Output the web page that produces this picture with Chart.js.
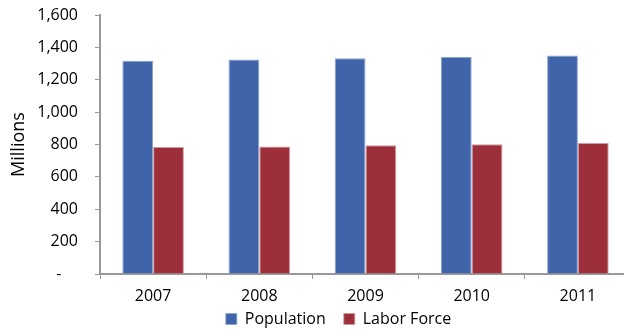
<!DOCTYPE html>
<html>
<head>
<meta charset="utf-8">
<script src="https://cdn.jsdelivr.net/npm/chart.js@4"></script>
<style>
    html, body { margin: 0; padding: 0; background: #fff; overflow: hidden; }
    #wrap { width: 640px; height: 329px; position: relative; }
</style>
</head>
<body>
<div id="wrap"><canvas id="laborChart"></canvas></div>
<script>
const years = ['2007', '2008', '2009', '2010', '2011'];
const population = [1317, 1325, 1333, 1340, 1350];
const laborForce = [784, 787, 795, 801, 810];
const yTicks = [0, 200, 400, 600, 800, 1000, 1200, 1400, 1600];

const axisColor = '#999999';
const textColor = '#000';
const fontFamily = '"Open Sans", sans-serif';

// keep the legend short and place it like the original
const legendPlace = {
    id: 'legendPlace',
    beforeLayout(chart) {
        const lg = chart.legend;
        if (lg && !lg._patched) {
            const orig = lg.fit;
            lg.fit = function() {
                orig.call(this);
                this.height = 23;
            };
            lg._patched = true;
        }
    },
    afterLayout(chart) {
        const lg = chart.legend;
        lg.left += 23;
        lg.right += 23;
        lg.top = 293;
    }
};

const ctx = document.getElementById('laborChart');

new Chart(ctx, {
    type: 'bar',
    data: {
        labels: years,
        datasets: [{
            label: 'Population',
            data: population,
            backgroundColor: '#3f64a9',
            borderColor: '#8aa3cf',
            borderWidth: { top: 1, left: 1, right: 1, bottom: 0 },
            categoryPercentage: 0.58,
            barPercentage: 1.0
        }, {
            label: 'Labor Force',
            data: laborForce,
            backgroundColor: '#9c2f3a',
            borderColor: '#cf9aa0',
            borderWidth: { top: 1, left: 1, right: 1, bottom: 0 },
            categoryPercentage: 0.58,
            barPercentage: 1.0
        }]
    },
    options: {
        responsive: true,
        maintainAspectRatio: false,
        animation: false,
        layout: { padding: { top: 15, right: 9, left: 0, bottom: 0 } },
        plugins: {
            legend: {
                position: 'bottom',
                labels: {
                    boxWidth: 11,
                    boxHeight: 11,
                    padding: 18,
                    color: textColor,
                    font: { family: fontFamily, size: 16 }
                }
            },
            title: { display: false },
            tooltip: { enabled: false }
        },
        scales: {
            x: {
                offset: true,
                afterFit(scale) {
                    scale.height = 32;
                    scale.paddingLeft = 0;
                    scale.paddingRight = 0;
                },
                grid: {
                    display: true,
                    offset: true,
                    drawOnChartArea: false,
                    drawTicks: true,
                    tickLength: 5,
                    color: axisColor
                },
                border: { color: axisColor, width: 2 },
                ticks: {
                    color: textColor,
                    padding: 8,
                    font: { family: fontFamily, size: 16 }
                }
            },
            y: {
                min: 0,
                max: 1600,
                afterBuildTicks(scale) {
                    scale.ticks = yTicks.map(v => ({ value: v }));
                },
                afterFit(scale) {
                    scale.width = 100;
                    scale.paddingTop = 0;
                    scale.paddingBottom = 0;
                },
                grid: {
                    display: true,
                    drawOnChartArea: false,
                    drawTicks: true,
                    tickLength: 5,
                    color: axisColor
                },
                border: { color: axisColor, width: 2 },
                title: {
                    display: true,
                    text: 'Millions',
                    color: textColor,
                    font: { family: fontFamily, size: 18 },
                    padding: { top: 8, bottom: 4 }
                },
                ticks: {
                    color: textColor,
                    padding: 17,
                    font: { family: fontFamily, size: 16 },
                    callback: v => v === 0 ? '-    ' : v.toLocaleString('en-US')
                }
            }
        }
    },
    plugins: [legendPlace]
});
</script>
</body>
</html>
